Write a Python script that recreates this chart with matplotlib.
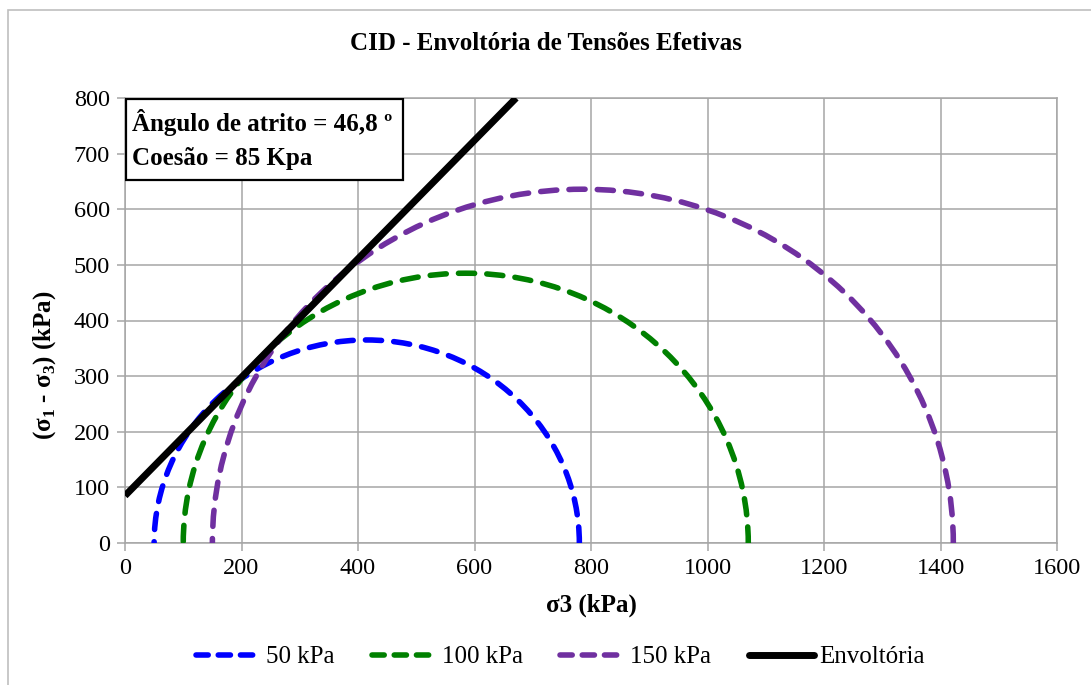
import numpy as np
import matplotlib
matplotlib.use('Agg')
import matplotlib.pyplot as plt
from matplotlib.patches import Arc, Rectangle
from matplotlib.lines import Line2D

plt.rcParams['font.family'] = ['Liberation Serif', 'DejaVu Serif']
plt.rcParams['mathtext.fontset'] = 'custom'
plt.rcParams['mathtext.rm'] = 'Liberation Serif'
plt.rcParams['mathtext.bf'] = 'Liberation Serif:bold'

# ensaios CID - tensoes efetivas na ruptura (kPa)
labels = ['50 kPa', '100 kPa', '150 kPa']
sigma3 = [50, 100, 150]
sigma1 = [780, 1070, 1422]
colors = ['#0000FF', '#008000', '#7030A0']

# envoltoria de Mohr-Coulomb
phi = 46.8   # graus
coesao = 85  # kPa

x_ticks = [0, 200, 400, 600, 800, 1000, 1200, 1400, 1600]
y_ticks = [0, 100, 200, 300, 400, 500, 600, 700, 800]

W, H = 1091, 685
fs = 18
fig = plt.figure(figsize=(W / 100, H / 100), dpi=100)
ax = fig.add_axes([125 / W, 1 - 543 / H, 932 / W, 445 / H])

# borda do grafico
fig.patches.append(Rectangle((8 / W, -0.05), 1.1, 1 - 10 / H + 0.05, transform=fig.transFigure,
                             fill=False, edgecolor='#BFBFBF', lw=1.2))

grey = '#A6A6A6'
ax.set_xlim(0, 1600)
ax.set_ylim(0, 800)
ax.set_xticks(x_ticks)
ax.set_yticks(y_ticks)
ax.grid(True, color=grey, lw=1.1)
ax.set_axisbelow(True)
for s in ax.spines.values():
    s.set_color(grey)
    s.set_linewidth(1.1)
ax.tick_params(direction='out', length=6, width=1.1, color=grey, labelsize=17.5, pad=5)

lw_c = 4.0
dash = (0, (2.9, 2.2))
handles = []
for s3, s1, c, lab in zip(sigma3, sigma1, colors, labels):
    centro = (s1 + s3) / 2
    raio = (s1 - s3) / 2
    ax.add_patch(Arc((centro, 0), 2 * raio, 2 * raio, theta1=0, theta2=180,
                     edgecolor=c, lw=lw_c, linestyle=dash, capstyle='round', zorder=3))
    handles.append(Line2D([], [], color=c, lw=lw_c, linestyle=(0, (2.2, 1.8)),
                          dash_capstyle='round', label=lab))

ax.axline((0, coesao), slope=np.tan(np.radians(phi)), color='black', lw=5, zorder=4,
          solid_capstyle='butt')
handles.append(Line2D([], [], color='black', lw=5, solid_capstyle='round', label='Envoltória'))

# caixa com os parametros
ax.add_patch(Rectangle((0.001, (543 - 180) / 445), (402 - 125) / 932, 1 - (543 - 180) / 445 - 0.002,
                       transform=ax.transAxes, fill=True, facecolor='white', edgecolor='black',
                       lw=1.6, zorder=5))
ax.text(0.007, 0.946, 'Ângulo de atrito = 46,8 º', transform=ax.transAxes, fontsize=fs,
        fontweight='bold', va='center', ha='left', zorder=6)
ax.text(0.007, 0.865, 'Coesão = 85 Kpa', transform=ax.transAxes, fontsize=fs,
        fontweight='bold', va='center', ha='left', zorder=6)

fig.text(546 / W, 1 - 44 / H, 'CID - Envoltória de Tensões Efetivas', fontsize=fs,
         fontweight='bold', ha='center', va='center')
ax.set_xlabel('σ3 (kPa)', fontsize=fs, fontweight='bold')
ax.xaxis.set_label_coords(0.5, (543 - 605) / 445)
ax.set_ylabel('(σ$_\\mathbf{1}$ - σ$_\\mathbf{3}$) (kPa)', fontsize=fs, fontweight='bold')
ax.yaxis.set_label_coords((45 - 125) / 932, (543 - 365) / 445)
ax.xaxis.label.set_va('center')
ax.yaxis.label.set_va('center')

fig.legend(handles=handles, loc='center', bbox_to_anchor=(560 / W, 1 - 657 / H), ncol=4,
           frameon=False, fontsize=fs, handlelength=2.6, handletextpad=0.2, columnspacing=1.5)

fig.savefig('out.png', dpi=100)
